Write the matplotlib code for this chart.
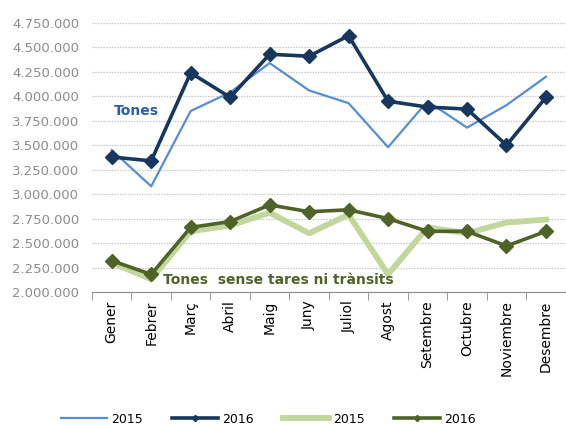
import matplotlib
matplotlib.use("Agg")
import matplotlib.pyplot as plt
from matplotlib.ticker import FuncFormatter
import numpy as np

months = ["Gener", "Febrer", "Març", "Abril", "Maig", "Juny", "Juliol",
          "Agost", "Setembre", "Octubre", "Noviembre", "Desembre"]
tones_2015 = [3450000, 3080000, 3850000, 4040000, 4340000, 4060000, 3930000,
              3480000, 3950000, 3680000, 3910000, 4200000]
tones_2016 = [3380000, 3340000, 4240000, 3990000, 4430000, 4410000, 4620000,
              3950000, 3890000, 3870000, 3500000, 3990000]
net_2015 = [2300000, 2130000, 2620000, 2680000, 2810000, 2600000, 2790000,
            2180000, 2660000, 2600000, 2710000, 2740000]
net_2016 = [2320000, 2180000, 2660000, 2720000, 2890000, 2820000, 2840000,
            2750000, 2620000, 2620000, 2470000, 2620000]
yticks = np.arange(2000000, 4750001, 250000)

c_lb = "#558ED5"
c_db = "#17375E"
c_lg = "#C3D69B"
c_dg = "#4F6228"

fig = plt.figure(figsize=(5.66, 4.25), dpi=100)
ax = fig.add_axes([0.1625, 0.313, 0.837, 0.633])
x = np.arange(len(months))

l1, = ax.plot(x, tones_2015, color=c_lb, lw=1.6, label="2015", zorder=3)
l2, = ax.plot(x, tones_2016, color=c_db, lw=2.6, marker="D", ms=7, label="2016", zorder=4)
l3, = ax.plot(x, net_2015, color=c_lg, lw=4.2, label="2015", zorder=3)
l4, = ax.plot(x, net_2016, color=c_dg, lw=2.6, marker="D", ms=7, label="2016", zorder=4)

ax.set_xlim(-0.5, 11.5)
ax.set_ylim(2000000, 4750000)
ax.set_yticks(yticks)
ax.yaxis.set_major_formatter(FuncFormatter(lambda v, p: f"{int(v):,}".replace(",", ".")))
ax.tick_params(axis="y", length=0, labelsize=9.5, labelcolor="#8C8C8C", pad=9)
ax.grid(axis="y", color="#C8C8C8", linestyle=(0, (1.2, 1)), lw=0.9)
ax.set_axisbelow(True)

ax.set_xticks(x)
ax.set_xticklabels(months, rotation=90, fontsize=10)
ax.set_xticks(np.arange(-0.5, 12, 1), minor=True)
ax.tick_params(axis="x", which="major", length=0, pad=6)
ax.tick_params(axis="x", which="minor", length=6, color="#8C8C8C", direction="out")

for s in ["left", "right", "top"]:
    ax.spines[s].set_visible(False)
ax.spines["bottom"].set_color("#8C8C8C")

ax.text(0.05, 3810000, "Tones", color="#2F5F9E", fontsize=10, fontweight="bold")
ax.text(1.3, 2080000, "Tones  sense tares ni trànsits", color=c_dg, fontsize=10, fontweight="bold")

fig.legend(handles=[l1, l2, l3, l4], labels=["2015", "2016", "2015", "2016"],
           loc="center", bbox_to_anchor=(0.474, 0.014), ncol=4, frameon=False,
           fontsize=9, handlelength=3.7, columnspacing=2.35,
           markerscale=0.45, handletextpad=0.3)

fig.savefig("out.png", dpi=100)
